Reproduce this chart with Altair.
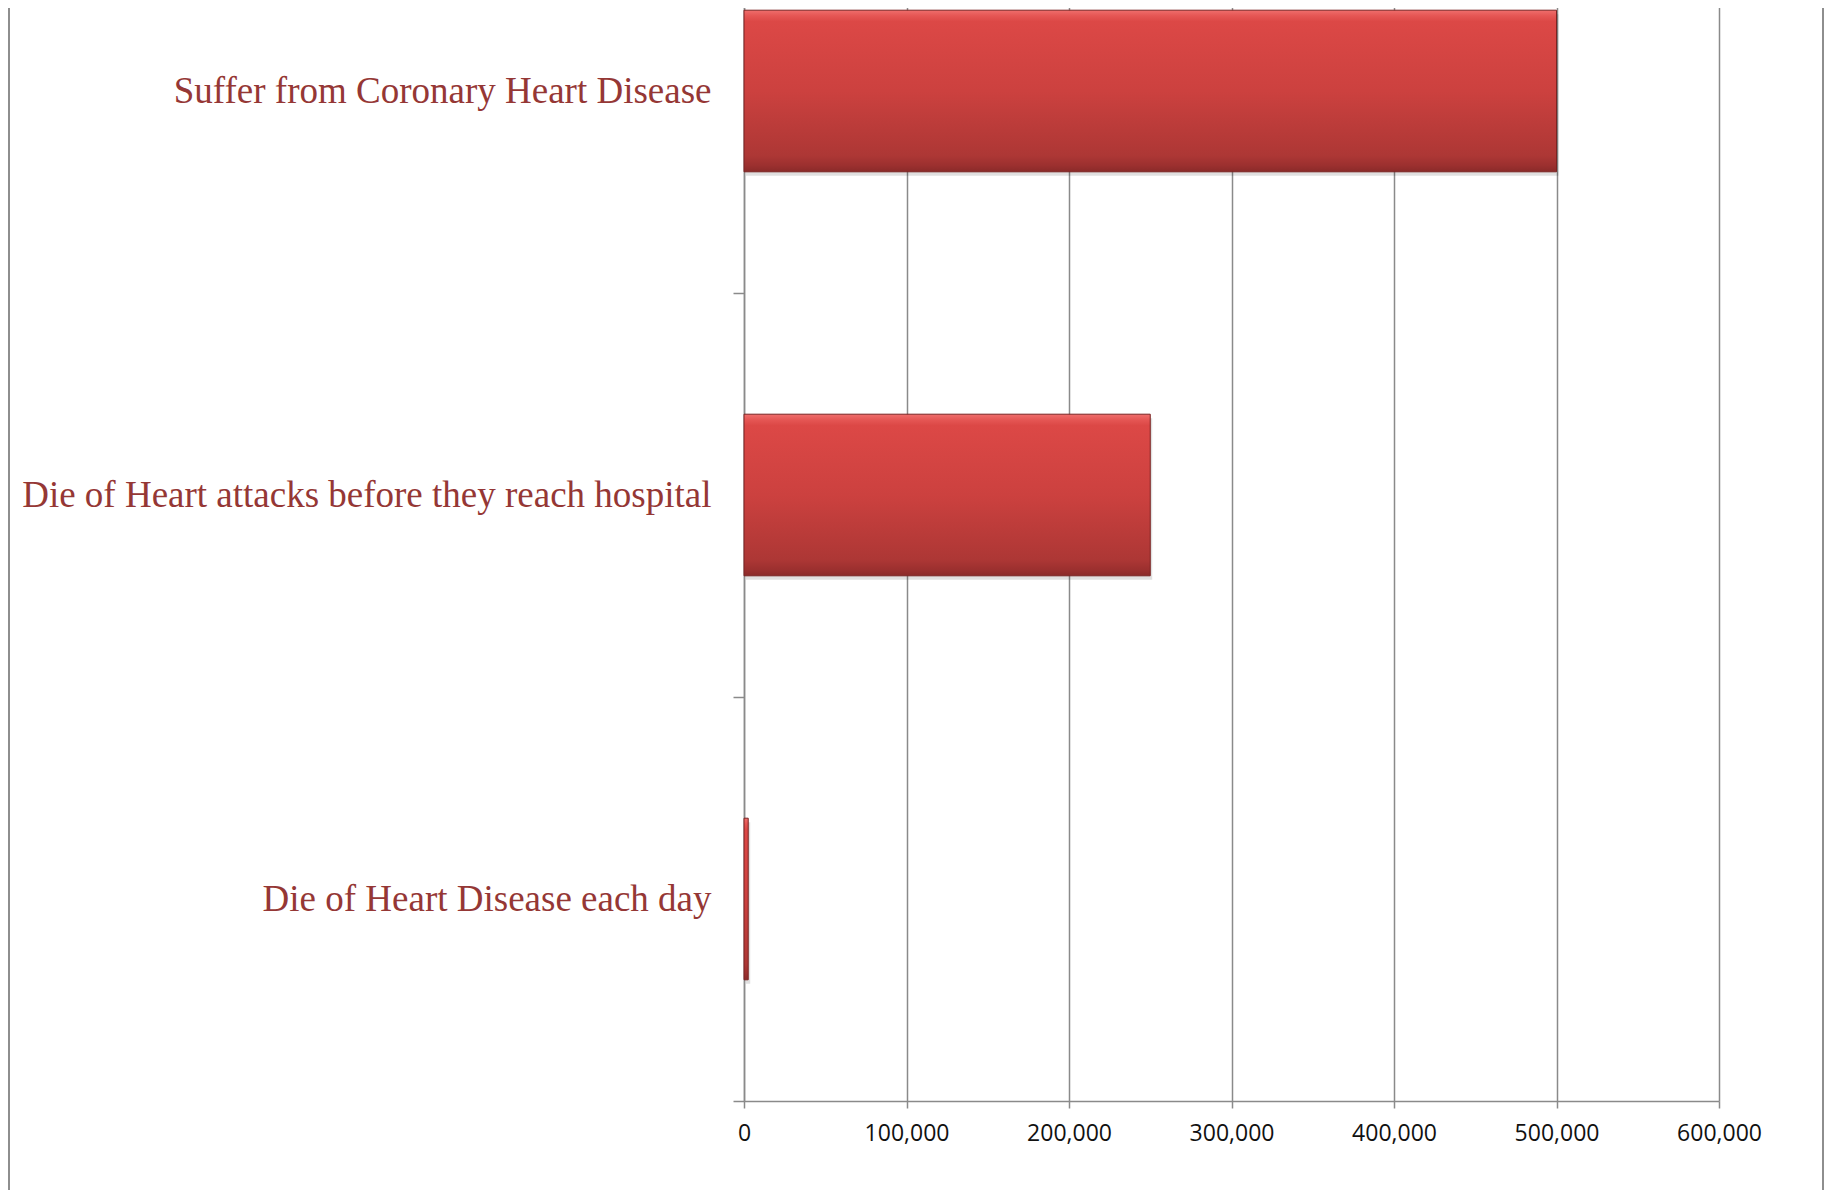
import altair as alt
import pandas as pd

categories = [
    "Suffer from Coronary Heart Disease",
    "Die of Heart attacks before they reach hospital",
    "Die of Heart Disease each day",
]
values = [500000, 250000, 2600]
x_ticks = [0, 100000, 200000, 300000, 400000, 500000, 600000]

df = pd.DataFrame({"label": categories, "value": values})

GRID = "#8a8a8a"

bar_gradient = alt.Gradient(
    gradient="linear",
    x1=0, y1=0, x2=0, y2=1,
    stops=[
        alt.GradientStop(offset=0.0, color="#ef6e6c"),
        alt.GradientStop(offset=0.035, color="#e55654"),
        alt.GradientStop(offset=0.07, color="#dc4846"),
        alt.GradientStop(offset=0.5, color="#cc413f"),
        alt.GradientStop(offset=0.9, color="#ad3735"),
        alt.GradientStop(offset=0.96, color="#9c302f"),
        alt.GradientStop(offset=1.0, color="#8a2a29"),
    ],
)

y_enc = alt.Y(
    "label:N",
    sort=categories,
    scale=alt.Scale(paddingInner=0, paddingOuter=0),
    axis=alt.Axis(
        title=None,
        tickBand="extent",
        tickSize=11,
        tickColor=GRID,
        tickWidth=1.5,
        domainColor=GRID,
        domainWidth=1.5,
        labelFont="Liberation Serif",
        labelFontSize=37,
        labelColor="#953735",
        labelPadding=22,
        labelLimit=2000,
        grid=False,
    ),
)

x_enc = alt.X(
    "value:Q",
    scale=alt.Scale(domain=[0, 600000], nice=False),
    axis=alt.Axis(
        title=None,
        values=x_ticks,
        format=",.0f",
        grid=True,
        gridColor=GRID,
        gridWidth=1.5,
        tickSize=7,
        tickColor=GRID,
        tickWidth=1.5,
        domainColor=GRID,
        domainWidth=1.5,
        labelFont="Open Sans",
        labelFontSize=23,
        labelColor="#111111",
        labelPadding=14,
        labelFlush=False,
    ),
)

shadow = alt.Chart(df).mark_bar(
    height=alt.RelativeBandSize(0.4),
    color="#000000",
    opacity=0.12,
    yOffset=4,
    xOffset=2,
).encode(x=x_enc, y=y_enc)

bars = alt.Chart(df).mark_bar(
    height=alt.RelativeBandSize(0.4),
    color=bar_gradient,
    stroke="#7a2322",
    strokeWidth=1,
).encode(x=x_enc, y=y_enc)

left_border = alt.Chart(df).mark_rule(color="#8e8e8e", strokeWidth=2, clip=False).encode(
    x=alt.value(-735), y=alt.value(0), y2=alt.value(1400)
)
right_border = alt.Chart(df).mark_rule(color="#8e8e8e", strokeWidth=2, clip=False).encode(
    x=alt.value(1079), y=alt.value(0), y2=alt.value(1400)
)

chart = (
    alt.layer(shadow, bars, left_border, right_border)
    .properties(
        width=975,
        height=1212,
        autosize="none",
        padding={"left": 736, "top": -119, "right": 105, "bottom": 89},
        background="white",
    )
    .configure_view(stroke=None)
)

chart.save("out.html", embed_options={"renderer": "svg", "actions": False})
